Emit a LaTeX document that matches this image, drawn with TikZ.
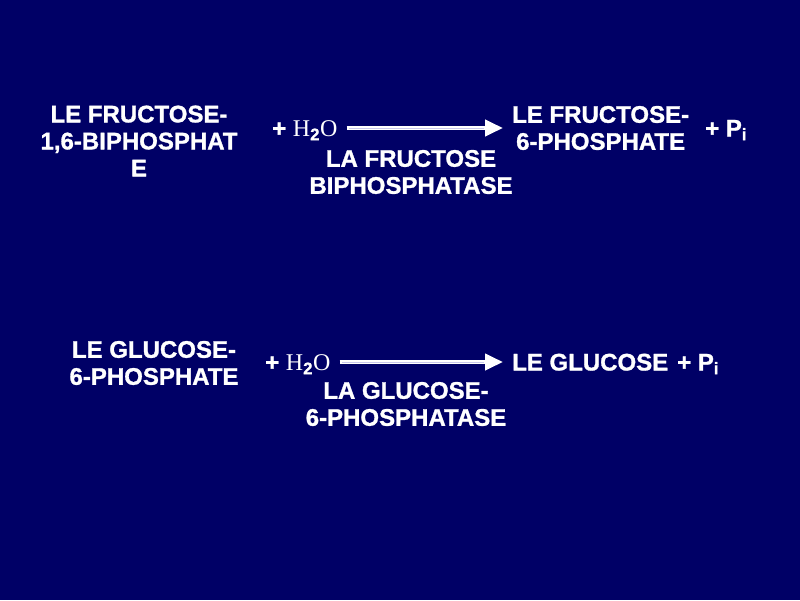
\documentclass[tikz,border=0pt]{standalone}
\usepackage{fontspec}
\setmainfont{Liberation Sans}[BoldFeatures={FakeBold=1.2}]
\newfontfamily\timesfont{Liberation Serif}
\usetikzlibrary{arrows.meta}
\definecolor{slidebg}{RGB}{0,0,102}
\definecolor{arrowcore}{RGB}{200,200,235}

\newcommand{\water}{\textbf{+} {\mdseries\timesfont H}\textsubscript{\textbf{2}}{\mdseries\timesfont O}}
\newcommand{\phos}{\textbf{+ P\textsubscript{i}}}

\begin{document}
\begin{tikzpicture}[x=1pt, y=-1pt,
        lbl/.style={text=white, font=\bfseries\fontsize{24}{27}\selectfont, align=center, inner sep=0pt},
        one/.style={lbl, text height=17pt, text depth=0pt},
        react/.style={draw=white, line width=4pt, -{Triangle[width=16pt, length=18pt]}, shorten <=9pt, shorten >=9pt},
        core/.style={draw=arrowcore, line width=1pt, shorten <=11pt, shorten >=28pt}]
        \fill[slidebg] (0, 0) rectangle (800, 600);
        % premiere reaction
        \node[lbl] (fbp) at (139, 141) {LE FRUCTOSE-\\1,6-BIPHOSPHAT\\E};
        \node[one, anchor=west] (waterA) at (272, 128) {\water};
        \node[lbl, anchor=west] (fsixp) at (512, 128) {LE FRUCTOSE-\\6-PHOSPHATE};
        \node[one, anchor=west] (phosA) at (705, 128) {\phos};
        \node[lbl] (fbpase) at (411, 172) {LA FRUCTOSE\\BIPHOSPHATASE};
        \draw[react] (waterA.east) -- (fsixp.west);
        \draw[core] (waterA.east) -- (fsixp.west);
        % deuxieme reaction
        \node[lbl] (gsixp) at (154, 363) {LE GLUCOSE-\\6-PHOSPHATE};
        \node[one, anchor=west] (waterB) at (265, 362) {\water};
        \node[one, anchor=west] (glc) at (512, 362) {LE GLUCOSE};
        \node[one, anchor=west] (phosB) at (677, 362) {\phos};
        \node[lbl] (gsixpase) at (406, 404) {LA GLUCOSE-\\6-PHOSPHATASE};
        \draw[react] (waterB.east) -- (glc.west);
        \draw[core] (waterB.east) -- (glc.west);
    \end{tikzpicture}
\end{document}
